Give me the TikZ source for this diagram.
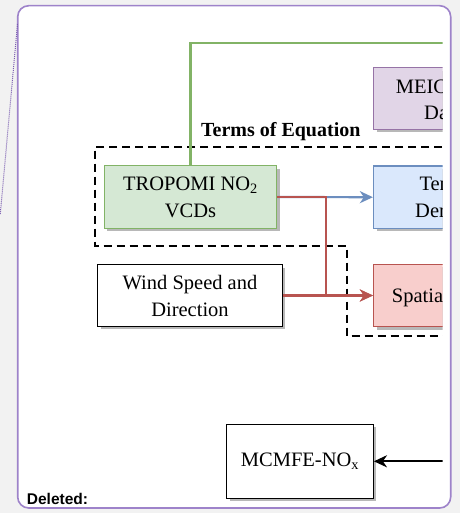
\documentclass[tikz,border=0pt]{standalone}
\usepackage{fontspec}
\setmainfont{Liberation Serif}
\newfontfamily\delfont{Liberation Sans}
\usetikzlibrary{shadows,arrows.meta}
\definecolor{bggray}{HTML}{F2F2F2}
\definecolor{framecol}{HTML}{9E83CA}
\definecolor{dotcol}{HTML}{7A5CB0}
\definecolor{gfill}{HTML}{D5E8D4}
\definecolor{gline}{HTML}{82B366}
\definecolor{bfill}{HTML}{DAE8FC}
\definecolor{bline}{HTML}{6C8EBF}
\definecolor{rfill}{HTML}{F8CECC}
\definecolor{rline}{HTML}{B85450}
\definecolor{pfill}{HTML}{E1D5E7}
\definecolor{pline}{HTML}{9673A6}
\begin{document}
\begin{tikzpicture}[x=1pt,y=-1pt,
  box/.style={draw, line width=1.2pt, inner sep=0pt, align=center,
    font=\fontsize{20.5}{27}\selectfont,
    drop shadow={shadow xshift=3pt, shadow yshift=-3pt, fill=black!28, opacity=1}},
  lbl/.style={inner sep=0pt, anchor=base west, font=\fontsize{20.5}{27}\selectfont},
  conn/.style={line width=2.2pt},
  tip/.style={-{Stealth[length=13pt,width=12pt,inset=4pt]}},
  grp/.style={line width=2pt, dash pattern=on 8pt off 5pt}
]
\useasboundingbox (0,0) rectangle (460,513);
\fill[bggray] (0,0) rectangle (460,513);
\draw[framecol, fill=white, rounded corners=11pt, line width=1.6pt] (17.7,5.7) rectangle (450.7,508);
\draw[dotcol, dash pattern=on 1pt off 1pt, line width=1pt] (17.5,24) -- (0.3,214);
\begin{scope}
\clip (0,0) rectangle (442.7,513);
% group outline
\draw[grp] (455,146.7) -- (95,146.7) -- (95,246) -- (347,246) -- (347,336) -- (455,336);
\node[inner sep=0pt, anchor=base, font=\bfseries\fontsize{20}{24}\selectfont] (terms) at (280.8,136.7) {Terms of Equation};
% boxes
\node[box, draw=gline, fill=gfill, minimum width=172.4pt, minimum height=62.6pt] (tropomi) at (190.5,197) {TROPOMI NO\textsubscript{2}\\VCDs};
\node[box, fill=white, minimum width=184.6pt, minimum height=61.7pt] (wind) at (190,295.5) {Wind Speed and\\Direction};
\node[box, fill=white, minimum width=146.6pt, minimum height=74pt] (mcmfe) at (300,461.3) {MCMFE-NO\textsubscript{x}};
\node[box, draw=pline, fill=pfill, minimum width=173pt, minimum height=61.6pt] (meic) at (460,98.5) {};
\node[box, draw=bline, fill=bfill, minimum width=173pt, minimum height=62.3pt] (temporal) at (460,197.2) {};
\node[box, draw=rline, fill=rfill, minimum width=173pt, minimum height=62.4pt] (spatial) at (460,295.5) {};
% clipped labels of right boxes
\node[lbl] (meicA) at (395.7,93.3) {MEIC};
\node[lbl] (meicB) at (424,120) {Data};
\node[lbl] (tempA) at (419.3,190.7) {Temporal};
\node[lbl] (tempB) at (415,217.3) {Derivative};
\node[lbl] (spatA) at (391.7,302) {Spatial};
% connectors
\coordinate (greenend) at (470,43.3);
\coordinate (blackstart) at (470,461.3);
\coordinate (redturn) at (326,197);
\draw[conn, gline] (tropomi.north) -- (tropomi.north |- greenend) -- (greenend);
\draw[conn, bline, tip] (tropomi.east) -- (temporal.west);
\draw[conn, rline, tip] (tropomi.east) -- (redturn) |- (spatial.west);
\draw[conn, rline, tip] (wind.east) -- (spatial.west);
\draw[conn, black, tip] (blackstart) -- (mcmfe.east);
\end{scope}
\node[inner sep=0pt, anchor=base west, font=\delfont\bfseries\fontsize{15.5}{18}\selectfont] (del) at (26.7,504.3) {Deleted:};
\end{tikzpicture}
\end{document}
